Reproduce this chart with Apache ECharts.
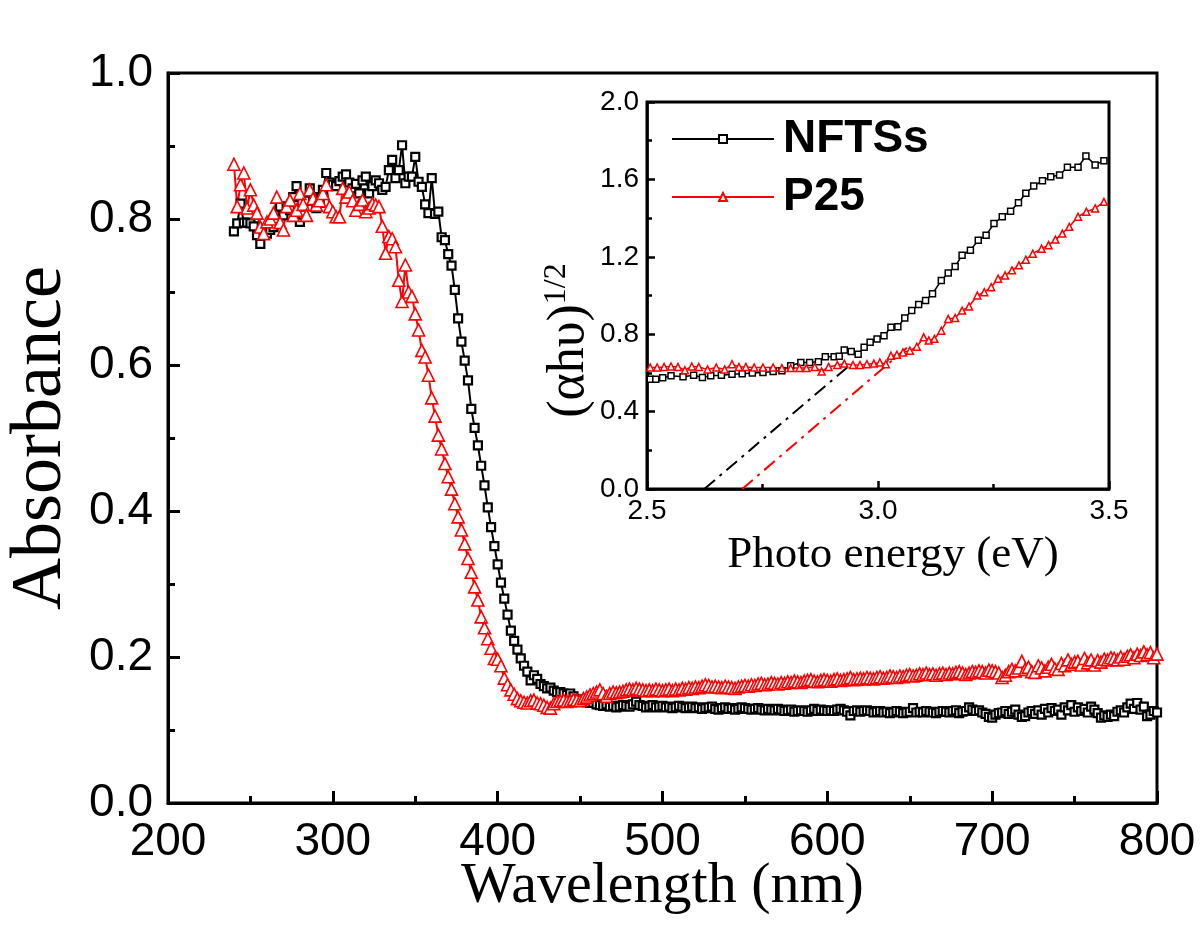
<!DOCTYPE html>
<html><head><meta charset="utf-8">
<script src="https://cdn.jsdelivr.net/npm/echarts@6/dist/echarts.min.js"></script>
<style>html,body{margin:0;padding:0;background:#fff}#c{width:1200px;height:942px}</style>
</head><body><div id="c"></div>
<script>
// Main plot: wavelength sampling grid (nm)
const wlStart = 240, wlStep = 2;
// Absorbance, NFTSs (black squares), 240..800 nm every 2 nm
const absNFTSs = [
0.783,0.794,0.821,0.795,0.795,0.794,0.790,0.778,0.766,0.782,
0.780,0.785,0.789,0.800,0.817,0.805,0.817,0.812,0.830,0.845,
0.796,0.806,0.825,0.842,0.830,0.815,0.822,0.840,0.863,0.850,
0.847,0.845,0.852,0.858,0.861,0.850,0.842,0.848,0.835,0.853,
0.858,0.835,0.845,0.853,0.849,0.840,0.844,0.867,0.881,0.856,
0.867,0.901,0.849,0.858,0.858,0.885,0.851,0.844,0.820,0.808,
0.856,0.807,0.810,0.775,0.771,0.752,0.736,0.703,0.664,0.632,
0.606,0.579,0.540,0.514,0.490,0.462,0.435,0.405,0.378,0.352,
0.327,0.302,0.280,0.258,0.236,0.222,0.210,0.198,0.188,0.180,
0.168,0.175,0.170,0.163,0.160,0.157,0.158,0.154,0.152,0.152,
0.150,0.148,0.150,0.146,0.142,0.140,0.139,0.138,0.137,0.137,
0.135,
0.134,0.133,0.135,0.132,0.133,0.131,0.132,0.134,0.133,0.132,
0.135,0.139,0.134,0.133,0.131,0.132,0.134,0.131,0.132,0.133,
0.131,0.132,0.130,0.131,0.133,0.132,0.130,0.131,0.132,0.130,
0.131,0.129,0.130,0.131,0.132,0.129,0.128,0.130,0.131,0.129,
0.130,0.128,0.129,0.131,0.130,0.129,0.128,0.129,0.130,0.128,
0.127,0.129,0.128,0.127,0.129,0.128,0.126,0.127,0.128,0.125,
0.126,0.127,0.126,0.125,0.127,0.129,0.126,0.128,0.127,0.126,
0.127,0.126,0.128,0.129,0.127,0.125,0.120,0.126,0.127,0.125,
0.126,0.127,0.126,0.124,0.125,0.126,0.124,0.125,0.123,0.124,
0.126,0.125,0.123,0.124,0.125,0.130,0.124,0.125,0.124,0.126,
0.125,0.124,0.123,0.125,0.126,0.125,0.124,0.126,0.127,0.123,
0.125,0.126,0.131,0.128,0.126,0.127,0.124,0.122,0.118,0.117,
0.121,0.123,0.124,0.126,0.122,0.125,0.128,0.121,0.118,0.119,
0.124,0.126,0.122,0.127,0.121,0.129,0.124,0.130,0.126,0.128,
0.121,0.131,0.127,0.134,0.125,0.131,0.126,0.129,0.124,0.132,
0.128,0.123,0.117,0.120,0.118,0.121,0.119,0.125,0.127,0.124,
0.131,0.136,0.129,0.137,0.128,0.132,0.119,0.121,0.126,0.124
];
// Absorbance, P25 (red triangles), 240..800 nm every 2 nm
const absP25 = [
0.875,0.817,0.847,0.863,0.815,0.840,0.819,0.808,0.789,0.780,
0.796,0.800,0.808,0.830,0.795,0.785,0.817,0.826,0.805,0.812,
0.835,0.820,0.805,0.840,0.828,0.819,0.825,0.835,0.847,0.817,
0.810,0.803,0.803,0.842,0.830,0.837,0.825,0.812,0.820,0.826,
0.810,0.815,0.821,0.819,0.817,0.790,0.753,0.776,0.773,0.762,
0.716,0.687,0.737,0.700,0.694,0.670,0.648,0.620,0.611,0.586,
0.555,0.530,0.504,0.485,0.465,0.447,0.430,0.410,0.392,0.374,
0.355,0.335,0.316,0.296,0.278,0.255,0.240,0.225,0.212,0.198,
0.197,0.188,0.171,0.162,0.155,0.149,0.143,0.140,0.138,0.137,
0.140,0.141,0.137,0.136,0.134,0.131,0.130,0.136,0.139,0.140,
0.141,0.139,0.140,0.142,0.141,0.140,0.143,0.145,0.148,0.150,
0.152,0.155,0.150,0.146,0.150,0.152,0.151,0.152,0.153,0.155,
0.156,0.155,0.157,0.156,0.155,0.154,
0.155,0.154,0.156,0.155,0.154,0.155,0.156,0.154,0.156,0.155,
0.157,0.156,0.158,0.157,0.159,0.158,0.160,0.162,0.161,0.159,
0.160,0.159,0.158,0.160,0.159,0.158,0.157,0.159,0.160,0.161,
0.160,0.162,0.161,0.163,0.164,0.162,0.163,0.165,0.164,0.163,
0.165,0.164,0.166,0.165,0.167,0.166,0.165,0.167,0.168,0.169,
0.167,0.166,0.168,0.169,0.168,0.167,0.169,0.170,0.168,0.169,
0.170,0.172,0.169,0.170,0.171,0.170,0.172,0.171,0.170,0.172,
0.173,0.171,0.172,0.174,0.173,0.172,0.174,0.173,0.175,0.176,
0.174,0.175,0.177,0.176,0.178,0.176,0.177,0.175,0.177,0.178,
0.176,0.178,0.177,0.179,0.180,0.178,0.176,0.178,0.180,0.179,
0.181,0.180,0.178,0.182,0.181,0.180,0.178,0.172,0.175,0.180,
0.183,0.181,0.185,0.194,0.183,0.186,0.180,0.179,0.188,0.185,
0.181,0.186,0.190,0.184,0.183,0.191,0.188,0.196,0.190,0.193,
0.194,0.189,0.198,0.192,0.196,0.189,0.195,0.193,0.197,0.196,
0.199,0.198,0.196,0.200,0.197,0.201,0.203,0.199,0.204,0.202,
0.207,0.203,0.206,0.199,0.204
];
// Inset: photon energy (eV) and (αhν)^1/2
const eNFTSs = [2.507,2.519,2.534,2.552,2.578,2.601,2.620,2.638,2.661,2.684,2.706,2.728,2.751,2.773,2.792,2.811,2.833,2.852,2.871,2.886,2.905,2.916,2.927,2.942,2.957,2.970,2.983,2.998,3.013,3.028,3.043,3.058,3.073,3.088,3.103,3.118,3.137,3.152,3.167,3.182,3.200,3.217,3.234,3.251,3.269,3.287,3.304,3.320,3.337,3.356,3.374,3.393,3.410,3.433,3.450,3.470,3.489];
const tNFTSs = [0.567,0.567,0.575,0.585,0.580,0.588,0.576,0.585,0.588,0.593,0.596,0.600,0.602,0.607,0.611,0.637,0.654,0.654,0.657,0.683,0.683,0.686,0.718,0.711,0.697,0.732,0.758,0.775,0.792,0.836,0.839,0.884,0.922,0.953,0.974,1.009,1.078,1.116,1.150,1.208,1.234,1.285,1.311,1.372,1.407,1.436,1.479,1.528,1.566,1.593,1.614,1.623,1.663,1.663,1.721,1.675,1.697];
const eP25 = [2.507,2.522,2.537,2.552,2.567,2.582,2.597,2.612,2.631,2.650,2.668,2.684,2.699,2.714,2.732,2.751,2.773,2.792,2.811,2.830,2.845,2.863,2.878,2.893,2.912,2.927,2.946,2.961,2.976,2.991,3.004,3.017,3.028,3.041,3.054,3.069,3.084,3.099,3.110,3.122,3.137,3.152,3.167,3.182,3.197,3.215,3.230,3.245,3.260,3.275,3.290,3.305,3.320,3.335,3.354,3.369,3.384,3.399,3.414,3.433,3.451,3.470,3.489];
const tP25 = [0.628,0.628,0.631,0.633,0.631,0.614,0.633,0.631,0.618,0.628,0.618,0.645,0.631,0.631,0.628,0.628,0.628,0.625,0.625,0.625,0.625,0.631,0.607,0.631,0.641,0.648,0.641,0.641,0.645,0.648,0.654,0.645,0.689,0.694,0.706,0.715,0.735,0.784,0.768,0.776,0.818,0.879,0.884,0.922,0.943,1.000,1.017,1.043,1.087,1.104,1.130,1.156,1.185,1.216,1.242,1.260,1.289,1.320,1.355,1.407,1.433,1.450,1.484];
// Band-gap extrapolation lines (endpoints)
const fitNFTSs = [[2.624, 0], [2.946, 0.654]];
const fitP25 = [[2.706, 0], [3.070, 0.745]];

const wl = absNFTSs.map((_, i) => wlStart + wlStep * i);
const pairs = (xs, ys) => ys.map((y, i) => [xs[i], y]);

const chart = echarts.init(document.getElementById('c'), null, {renderer: 'canvas'});
const sans = 'Liberation Sans, Arial, sans-serif';
const serif = 'Liberation Serif, Times New Roman, serif';

function axisCommon(tickLen, minorLen, lw, fs, margin) {
  return {
    axisLine: {show: true, onZero: false, lineStyle: {color: '#000', width: lw}},
    axisTick: {show: true, inside: true, length: tickLen, lineStyle: {color: '#000', width: lw}},
    minorTick: {show: true, splitNumber: 2, length: minorLen, lineStyle: {color: '#000', width: lw}},
    splitLine: {show: false},
    axisLabel: {color: '#000', fontFamily: sans, fontSize: fs, margin: margin, formatter: v => v.toFixed(1)}
  };
}

const option = {
  animation: false,
  backgroundColor: '#fff',
  grid: [
    {left: 168, top: 73, width: 989, height: 730, show: true, borderColor: '#000', borderWidth: 3,
     containLabel: false, outerBoundsMode: 'none'},
    {left: 647, top: 102, width: 462, height: 387, show: true, borderColor: '#000', borderWidth: 3,
     backgroundColor: '#fff', containLabel: false, outerBoundsMode: 'none'}
  ],
  xAxis: [
    Object.assign(axisCommon(12, 7, 3, 46, 16), {
      type: 'value', gridIndex: 0, min: 200, max: 800, interval: 100,
      name: 'Wavelength (nm)', nameLocation: 'middle', nameGap: 55, nameMoveOverlap: false,
      nameTextStyle: {fontFamily: serif, fontSize: 58, color: '#000'}
    }),
    Object.assign(axisCommon(8, 5, 2.5, 28, 8), {
      type: 'value', gridIndex: 1, min: 2.5, max: 3.5, interval: 0.5,
      name: 'Photo energy (eV)', nameLocation: 'middle', nameGap: 44,
      nameTextStyle: {fontFamily: serif, fontSize: 45, color: '#000', padding: [0, 0, 0, 30]}
    })
  ],
  yAxis: [
    Object.assign(axisCommon(12, 7, 3, 46, 15), {
      type: 'value', gridIndex: 0, min: 0, max: 1.0, interval: 0.2,
      name: 'Absorbance', nameLocation: 'middle', nameGap: 91,
      nameTextStyle: {fontFamily: serif, fontSize: 72, color: '#000'}
    }),
    Object.assign(axisCommon(8, 5, 2.5, 28, 8), {
      type: 'value', gridIndex: 1, min: 0, max: 2.0, interval: 0.4,
      name: '{a|(αhυ)}{b|1/2}', nameLocation: 'middle', nameGap: 50,
      nameTextStyle: {color: '#000', padding: [0, 90, 0, 0], rich: {
        a: {fontFamily: serif, fontSize: 52, color: '#000', lineHeight: 56},
        b: {fontFamily: serif, fontSize: 32, color: '#000', verticalAlign: 'top', lineHeight: 56}
      }}
    })
  ],
  legend: {
    left: 666, top: 109, orient: 'vertical', itemWidth: 102, itemHeight: 10, itemGap: 8,
    selectedMode: false, data: ['NFTSs', 'P25'],
    textStyle: {fontFamily: sans, fontWeight: 'bold', fontSize: 46, color: '#000', lineHeight: 50, padding: [0, 0, 0, 4]}
  },
  series: [
    {name: 'NFTSs', type: 'line', xAxisIndex: 1, yAxisIndex: 1, data: pairs(eNFTSs, tNFTSs),
     symbol: 'rect', symbolSize: 6, itemStyle: {color: '#fff', borderColor: '#000', borderWidth: 1.5},
     lineStyle: {color: '#000', width: 1.5}, z: 3},
    {name: 'P25', type: 'line', xAxisIndex: 1, yAxisIndex: 1, data: pairs(eP25, tP25),
     symbol: 'triangle', symbolSize: 7, itemStyle: {color: '#fff', borderColor: '#f00', borderWidth: 1.5},
     lineStyle: {color: '#f00', width: 1.5}, z: 3},
    {name: 'fitN', type: 'line', xAxisIndex: 1, yAxisIndex: 1, data: fitNFTSs, symbol: 'none',
     lineStyle: {color: '#000', width: 2, type: [14, 6, 3, 6]}, silent: true, z: 2},
    {name: 'fitP', type: 'line', xAxisIndex: 1, yAxisIndex: 1, data: fitP25, symbol: 'none',
     lineStyle: {color: '#f00', width: 2, type: [14, 6, 3, 6]}, silent: true, z: 2},
    {name: 'NFTSs', type: 'line', xAxisIndex: 0, yAxisIndex: 0, data: pairs(wl, absNFTSs),
     symbol: 'rect', symbolSize: 8, itemStyle: {color: '#fff', borderColor: '#000', borderWidth: 2.2},
     lineStyle: {color: '#000', width: 2}, z: 2},
    {name: 'P25', type: 'line', xAxisIndex: 0, yAxisIndex: 0, data: pairs(wl, absP25),
     symbol: 'triangle', symbolSize: 12, itemStyle: {color: '#fff', borderColor: '#f00', borderWidth: 1.6},
     lineStyle: {color: '#f00', width: 2}, z: 2}
  ]
};
option.xAxis[0].axisLabel.formatter = v => String(v);
chart.setOption(option);
</script></body></html>
